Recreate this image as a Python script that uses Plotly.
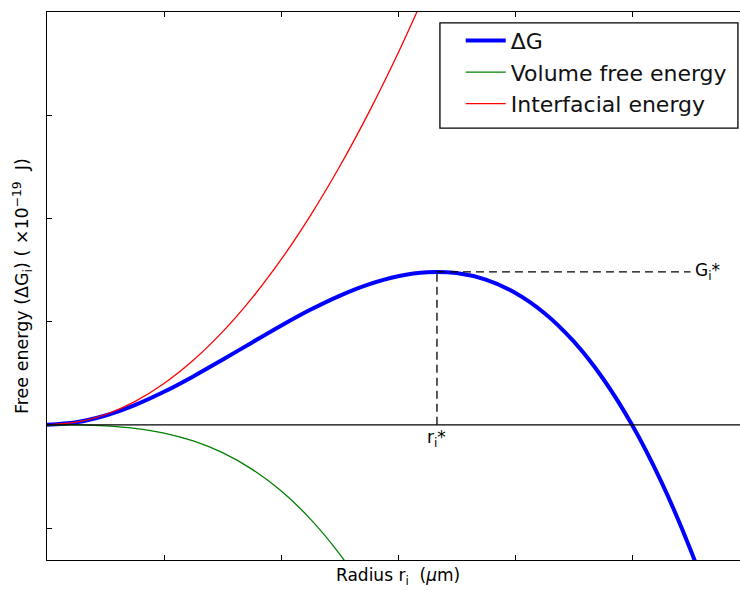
import plotly.graph_objects as go

# Values (x in tick units of radius, y in units of 1e-19 J)
r_values = [0, 0.25, 0.5, 0.75, 1.0, 1.25, 1.5, 1.75, 2.0, 2.25, 2.5, 2.75, 3.0, 3.25,
            3.5, 3.75, 4.0, 4.25, 4.5, 4.75, 5.0, 5.25, 5.5, 5.75]
delta_g = [0, 0.024, 0.09, 0.191, 0.32, 0.469, 0.63, 0.796, 0.96, 1.114, 1.25, 1.361,
           1.44, 1.479, 1.47, 1.406, 1.28, 1.084, 0.81, 0.451, 0, -0.551, -1.21, -1.984]
r_volume = [0, 0.25, 0.5, 0.75, 1.0, 1.25, 1.5, 1.75, 2.0, 2.25, 2.5, 2.75]
volume_energy = [0, -0.001, -0.01, -0.034, -0.08, -0.156, -0.27, -0.429, -0.64, -0.911,
                 -1.25, -1.664]
r_interface = [0, 0.25, 0.5, 0.75, 1.0, 1.25, 1.5, 1.75, 2.0, 2.25, 2.5, 2.75, 3.0, 3.25]
interfacial_energy = [0, 0.025, 0.1, 0.225, 0.4, 0.625, 0.9, 1.225, 1.6, 2.025, 2.5,
                      3.025, 3.6, 4.225]
r_star = 3.333
g_star = 1.481
g_line_end = 5.5

FONT = "DejaVu Sans"

fig = go.Figure()
fig.add_trace(go.Scatter(x=r_values, y=delta_g, mode="lines", name="ΔG",
                         line=dict(color="#0000ff", width=4, shape="spline")))
fig.add_trace(go.Scatter(x=r_volume, y=volume_energy, mode="lines", name="Volume free energy",
                         line=dict(color="#008000", width=1.3, shape="spline")))
fig.add_trace(go.Scatter(x=r_interface, y=interfacial_energy, mode="lines",
                         name="Interfacial energy",
                         line=dict(color="#ff0000", width=1.3, shape="spline")))
# zero line
fig.add_trace(go.Scatter(x=[0, 6.5], y=[0, 0], mode="lines", showlegend=False,
                         line=dict(color="black", width=1.3), hoverinfo="skip"))
# dashed guide lines
fig.add_trace(go.Scatter(x=[r_star, r_star], y=[0, g_star], mode="lines", showlegend=False,
                         line=dict(color="black", width=1.3, dash="8px,5px"), hoverinfo="skip"))
fig.add_trace(go.Scatter(x=[r_star, g_line_end], y=[g_star, g_star], mode="lines",
                         showlegend=False,
                         line=dict(color="black", width=1.3, dash="8px,5px"), hoverinfo="skip"))

x_right = (740 - 47) / 117.0

fig.update_layout(
    width=740, height=591,
    margin=dict(l=47, r=0, t=12, b=31),
    paper_bgcolor="white", plot_bgcolor="white",
    font=dict(family=FONT, color="black", size=17),
    showlegend=True,
    legend=dict(x=0.597, y=0.986, xanchor="left", yanchor="top",
                borderwidth=0, bgcolor="rgba(0,0,0,0)",
                font=dict(family=FONT, size=22, color="#111111"),
                tracegroupgap=0, itemwidth=40),
    shapes=[dict(type="rect", xref="paper", yref="paper",
                 x0=0.567, x1=0.997, y0=0.788, y1=0.980,
                 line=dict(color="black", width=1.3), fillcolor="white", layer="below")],
    xaxis=dict(range=[0, x_right], tickmode="array", tickvals=[1, 2, 3, 4, 5],
               showticklabels=False, ticks="inside", ticklen=5, tickcolor="black",
               showline=True, linecolor="black", linewidth=1.3, mirror="ticks",
               showgrid=False, zeroline=False),
    yaxis=dict(range=[-1.31, 4.0], tickmode="array", tickvals=[-1, 0, 1, 2, 3, 4],
               showticklabels=False, ticks="inside", ticklen=5, tickcolor="black",
               showline=True, linecolor="black", linewidth=1.3, mirror=False,
               showgrid=False, zeroline=False),
    annotations=[
        dict(x=3.0, y=0, xref="x", yref="paper", yanchor="top", xanchor="center",
             yshift=-3, showarrow=False, text="Radius r<sub>i</sub>  (<i>μ</i>m)",
             font=dict(size=17, family=FONT)),
        dict(x=0, y=0.5, xref="paper", yref="paper", xanchor="center", yanchor="middle",
             xshift=-25, textangle=-90, showarrow=False,
             text="Free energy (ΔG<sub>i</sub>) ( ×10<sup>−19</sup>  J)",
             font=dict(size=17.5, family=FONT)),
        dict(x=r_star, y=0, xref="x", yref="y", xanchor="center", yanchor="top",
             showarrow=False, text="r<sub>i</sub>*", font=dict(size=17, family=FONT)),
        dict(x=g_line_end, y=g_star, xref="x", yref="y", xanchor="left", yanchor="middle",
             xshift=2, showarrow=False, text="G<sub>i</sub>*", font=dict(size=17, family=FONT)),
    ],
)

fig.write_html("out.html")
